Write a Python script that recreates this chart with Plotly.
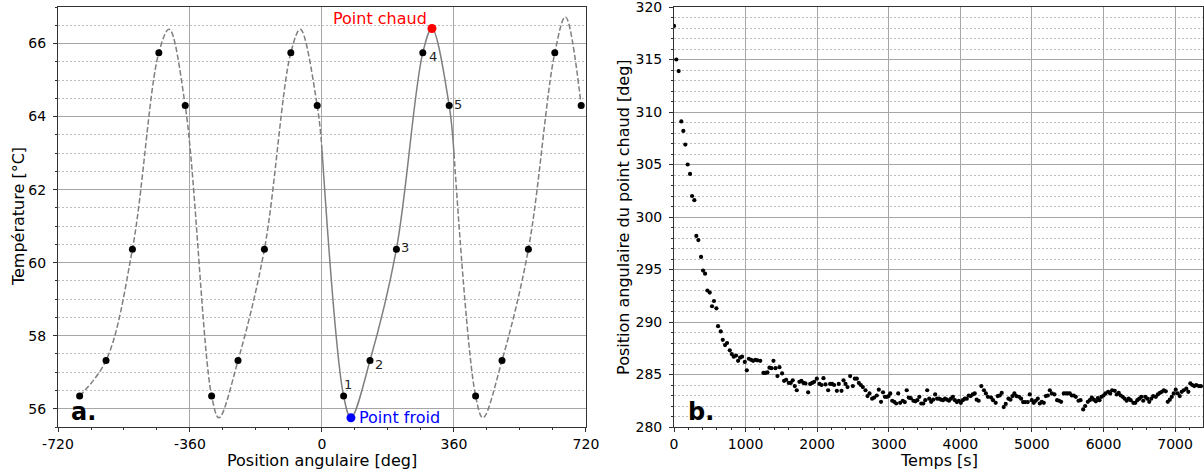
import plotly.graph_objects as go

# ---------------- Panel a : temperature vs angular position ----------------
sensor_angle = [59, 131, 203, 275, 347]
sensor_temp = [56.35, 57.32, 60.37, 65.75, 64.30]
sensor_label = ["1", "2", "3", "4", "5"]
cycle_offsets = [-720, -360, 0, 360]
label_shift_x = [4, 9, 9, 10, 9]
label_shift_y = [11, -4, 2, -4, 1]

# interpolated temperature profile (knots incl. extrema)
curve_before_x = [-661, -589, -517, -445, -417, -373, -301, -281, -229, -157, -85, -59, -13, 0]
curve_before_y = [56.35, 57.32, 60.37, 65.75, 66.39, 64.30, 56.35, 55.75, 57.32, 60.37, 65.75, 66.39, 64.30, 63.1]
curve_main_x = [0, 59, 79, 131, 203, 275, 300, 347, 360]
curve_main_y = [63.1, 56.35, 55.75, 57.32, 60.37, 65.75, 66.41, 64.30, 63.0]
curve_after_x = [360, 419, 439, 491, 563, 635, 664, 707]
curve_after_y = [63.0, 56.35, 55.75, 57.32, 60.37, 65.75, 66.73, 64.30]

hot_angle, hot_temp = 300, 66.41
cold_angle, cold_temp = 79, 55.75

# ---------------- Panel b : hot-spot angular position vs time ----------------
times_s = [
    0, 32, 65, 102, 130, 158, 191, 224, 252, 284,
    312, 340, 378, 406, 434, 466, 499, 531, 559, 592,
    615, 653, 681, 713, 741, 779, 807, 835, 867, 895,
    923, 951, 989, 1017, 1045, 1077, 1105, 1137, 1165, 1205,
    1249, 1277, 1305, 1333, 1361, 1389, 1417, 1445, 1473, 1510,
    1538, 1566, 1603, 1631, 1659, 1687, 1715, 1752, 1780, 1808,
    1836, 1874, 1902, 1930, 1958, 1995, 2032, 2060, 2088, 2116,
    2153, 2181, 2209, 2237, 2275, 2302, 2340, 2368, 2396, 2424,
    2461, 2498, 2526, 2554, 2582, 2610, 2638, 2675, 2703, 2731,
    2768, 2796, 2833, 2861, 2892, 2920, 2947, 2975, 2998, 3021,
    3048, 3076, 3104, 3132, 3159, 3196, 3224, 3251, 3279, 3307,
    3344, 3371, 3399, 3427, 3454, 3482, 3510, 3537, 3565, 3592,
    3620, 3648, 3675, 3703, 3731, 3758, 3786, 3814, 3841, 3869,
    3896, 3924, 3952, 3979, 4007, 4035, 4062, 4090, 4118, 4145,
    4173, 4201, 4228, 4256, 4293, 4330, 4357, 4385, 4429, 4457,
    4494, 4522, 4550, 4578, 4606, 4634, 4672, 4700, 4728, 4755,
    4783, 4821, 4849, 4877, 4905, 4942, 4970, 4998, 5026, 5054,
    5082, 5110, 5138, 5166, 5194, 5222, 5250, 5278, 5315, 5352,
    5380, 5408, 5445, 5473, 5501, 5529, 5557, 5585, 5613, 5651,
    5679, 5716, 5744, 5781, 5809, 5837, 5865, 5893, 5921, 5944,
    5972, 6000, 6028, 6065, 6093, 6120, 6157, 6185, 6213, 6241,
    6268, 6296, 6324, 6352, 6380, 6417, 6444, 6472, 6500, 6528,
    6555, 6583, 6611, 6639, 6667, 6694, 6731, 6759, 6787, 6815,
    6843, 6870, 6898, 6926, 6954, 6981, 7009, 7037, 7065, 7093,
    7120, 7157, 7185, 7213, 7241, 7268, 7296, 7333, 7361,
]
hot_position_deg = [
    318.2, 315.0, 313.9, 309.1, 308.2, 306.9, 305.0, 304.1, 302.0, 301.6,
    298.2, 297.8, 296.2, 294.9, 294.6, 293.0, 292.8, 291.5, 292.0, 291.3,
    289.6, 289.1, 288.3, 287.8, 288.0, 287.3, 286.95, 286.7, 286.8, 286.3,
    286.6, 286.7, 286.2, 285.4, 286.5, 286.4, 286.3, 286.4, 286.35, 286.3,
    285.15, 285.15, 285.2, 285.65, 285.6, 286.3, 285.6, 284.85, 285.7, 285.1,
    284.4, 284.5, 284.2, 284.2, 284.45, 283.9, 283.5, 284.3, 284.4, 284.2,
    284.15, 283.3, 284.1, 284.2, 284.3, 284.6, 284.1, 284.0, 284.65, 284.05,
    283.5, 284.1, 284.1, 284.0, 283.45, 284.1, 283.45, 284.45, 284.1, 283.8,
    284.85, 283.9, 284.6, 284.6, 284.2, 284.0, 283.8, 283.5, 282.95, 283.2,
    282.7, 282.8, 283.0, 283.55, 282.4, 283.3, 282.87, 282.87, 282.95, 283.2,
    282.5, 282.4, 282.24, 283.2, 282.3, 282.5, 282.37, 283.5, 282.8, 282.75,
    282.5, 282.45, 282.55, 282.87, 282.24, 282.24, 282.55, 283.5, 282.7, 282.4,
    282.6, 283.1, 282.7, 282.7, 282.6, 282.55, 282.7, 282.6, 282.5, 282.7,
    282.87, 282.55, 282.37, 282.5, 282.3, 282.55, 282.7, 282.7, 283.0, 282.95,
    283.1, 283.2, 282.6, 282.5, 283.9, 283.5, 283.2, 282.87, 282.8, 282.55,
    282.3, 282.95, 283.0, 283.25, 281.9, 282.2, 282.7, 282.6, 282.95, 283.2,
    282.95, 282.87, 282.7, 282.37, 282.37, 282.37, 283.1, 282.55, 282.3, 282.5,
    282.7, 282.24, 282.4, 282.3, 282.95, 283.0, 283.5, 283.2, 283.1, 282.55,
    282.5, 282.4, 283.2, 283.2, 283.2, 283.2, 283.0, 283.0, 282.87, 282.5,
    282.55, 281.67, 282.0, 282.4, 282.55, 282.8, 282.6, 282.45, 282.75, 282.55,
    282.87, 283.0, 283.2, 283.35, 283.2, 283.5, 283.45, 283.1, 283.25, 283.0,
    282.87, 282.7, 282.5, 282.7, 282.55, 282.3, 282.3, 282.55, 282.7, 282.87,
    282.5, 282.87, 282.7, 282.4, 282.7, 282.95, 282.87, 283.1, 283.25, 283.35,
    283.5, 283.4, 282.4, 282.6, 282.87, 283.2, 283.55, 283.2, 282.95, 283.35,
    283.5, 283.65, 283.35, 284.15, 284.0, 283.9, 283.98, 283.9, 283.9,
]

FONT = "DejaVu Sans"
CURVE = "#7f7f7f"
DASH = "5.5px,2.4px"

fig = go.Figure()

# dashed profile outside [0, 360]
for cx, cy in [(curve_before_x, curve_before_y), (curve_after_x, curve_after_y)]:
    fig.add_trace(go.Scatter(x=cx, y=cy, mode="lines", xaxis="x", yaxis="y",
                             line=dict(color=CURVE, width=1.5, dash=DASH, shape="spline", smoothing=1.0),
                             hoverinfo="skip", showlegend=False))
# solid profile on [0, 360]
fig.add_trace(go.Scatter(x=curve_main_x, y=curve_main_y, mode="lines", xaxis="x", yaxis="y",
                         line=dict(color=CURVE, width=1.5, shape="spline", smoothing=1.0),
                         hoverinfo="skip", showlegend=False))

# sensor dots repeated every 360 deg
dot_x = [a + off for off in cycle_offsets for a in sensor_angle]
dot_y = [t for off in cycle_offsets for t in sensor_temp]
keep = [(x, y) for x, y in zip(dot_x, dot_y) if -720 <= x <= 720]
fig.add_trace(go.Scatter(x=[k[0] for k in keep], y=[k[1] for k in keep], mode="markers",
                         xaxis="x", yaxis="y", marker=dict(color="black", size=7),
                         showlegend=False))
fig.add_trace(go.Scatter(x=[hot_angle], y=[hot_temp], mode="markers", xaxis="x", yaxis="y",
                         marker=dict(color="#ff0000", size=9), showlegend=False))
fig.add_trace(go.Scatter(x=[cold_angle], y=[cold_temp], mode="markers", xaxis="x", yaxis="y",
                         marker=dict(color="#0000ff", size=9), showlegend=False))

# panel b
fig.add_trace(go.Scatter(x=times_s, y=hot_position_deg, mode="markers", xaxis="x2", yaxis="y2",
                         marker=dict(color="black", size=4.2), showlegend=False))

annotations = []
for a, t, lab, sx, sy in zip(sensor_angle, sensor_temp, sensor_label, label_shift_x, label_shift_y):
    annotations.append(dict(x=a, y=t, xref="x", yref="y", text=lab, showarrow=False,
                            xshift=sx, yshift=sy, font=dict(family=FONT, size=13, color="#222")))
annotations.append(dict(x=hot_angle, y=hot_temp, xref="x", yref="y", text="Point chaud",
                        showarrow=False, xanchor="right", xshift=-3, yshift=10,
                        font=dict(family=FONT, size=16, color="#ff0000")))
annotations.append(dict(x=cold_angle, y=cold_temp, xref="x", yref="y", text="Point froid",
                        showarrow=False, xanchor="left", xshift=6, yshift=0,
                        font=dict(family=FONT, size=16, color="#0000ff")))
annotations.append(dict(x=0.021, y=0.036, xref="x domain", yref="y domain", text="<b>a.</b>",
                        showarrow=False, xanchor="left", yanchor="middle",
                        font=dict(family=FONT, size=24, color="black")))
annotations.append(dict(x=0.023, y=0.036, xref="x2 domain", yref="y2 domain", text="<b>b.</b>",
                        showarrow=False, xanchor="left", yanchor="middle",
                        font=dict(family=FONT, size=24, color="black")))
# axis titles
annotations += [
    dict(x=-0.0349, y=0.5, xref="paper", yref="paper", text="Température [°C]", textangle=-90,
         showarrow=False, xanchor="center", yanchor="middle", font=dict(family=FONT, size=16, color="black")),
    dict(x=0.4934, y=0.5, xref="paper", yref="paper", text="Position angulaire du point chaud [deg]",
         textangle=-90, showarrow=False, xanchor="center", yanchor="middle",
         font=dict(family=FONT, size=16, color="black")),
    dict(x=0.5, y=-0.079, xref="x domain", yref="paper", text="Position angulaire [deg]",
         showarrow=False, xanchor="center", yanchor="middle", font=dict(family=FONT, size=16, color="black")),
    dict(x=0.5, y=-0.079, xref="x2 domain", yref="paper", text="Temps [s]",
         showarrow=False, xanchor="center", yanchor="middle", font=dict(family=FONT, size=16, color="black")),
]

MAJOR = "#a6a6a6"
MINOR = "#bdbdbd"
axis_common = dict(showline=True, linecolor="#333333", linewidth=1, mirror=True,
                   ticks="outside", ticklen=4, tickwidth=1, tickcolor="#333333",
                   showgrid=True, gridcolor=MAJOR, gridwidth=1.1, zeroline=False,
                   automargin=False, ticklabeloverflow="allow",
                   tickfont=dict(family=FONT, size=14, color="black"))

fig.update_layout(
    width=1204, height=474, autosize=False,
    margin=dict(l=58, r=1, t=7, b=47, autoexpand=False),
    paper_bgcolor="white", plot_bgcolor="white",
    showlegend=False,
    annotations=annotations,
    xaxis=dict(domain=[0.0, 0.4611], range=[-720, 720], tickmode="array",
               tickvals=[-720, -360, 0, 360, 720], ticktext=["-720", "-360", "0", "360", "720"],
               minor=dict(dtick=90, tick0=0, ticks="outside", ticklen=2, tickcolor="#333333", showgrid=False),
               anchor="y", **axis_common),
    yaxis=dict(domain=[0, 1], range=[55.5, 67.0], tickmode="array",
               tickvals=[56, 58, 60, 62, 64, 66], ticklabelstandoff=4,
               minor=dict(dtick=0.5, tick0=0, ticks="outside", ticklen=2, tickcolor="#333333",
                          showgrid=True, gridcolor=MINOR, gridwidth=0.8, griddash="2px,2px"),
               anchor="x", **axis_common),
    xaxis2=dict(domain=[0.538, 1.0], range=[0, 7390], tickmode="array",
                tickvals=[0, 1000, 2000, 3000, 4000, 5000, 6000, 7000],
                minor=dict(dtick=200, tick0=0, ticks="outside", ticklen=2, tickcolor="#333333", showgrid=False),
                anchor="y2", **axis_common),
    yaxis2=dict(domain=[0, 1], range=[280, 320], tickmode="array",
                tickvals=[280, 285, 290, 295, 300, 305, 310, 315, 320], ticklabelstandoff=4,
                minor=dict(dtick=1, tick0=0, ticks="outside", ticklen=2, tickcolor="#333333",
                           showgrid=True, gridcolor=MINOR, gridwidth=0.8, griddash="2px,2px"),
                anchor="x2", **axis_common),
)

fig.write_html(
    "out.html",
    config={"displayModeBar": False, "responsive": False},
    post_script=(
        "document.body.style.margin='0';document.body.style.padding='0';"
        "document.documentElement.style.overflow='hidden';document.body.style.overflow='hidden';"
    ),
)
